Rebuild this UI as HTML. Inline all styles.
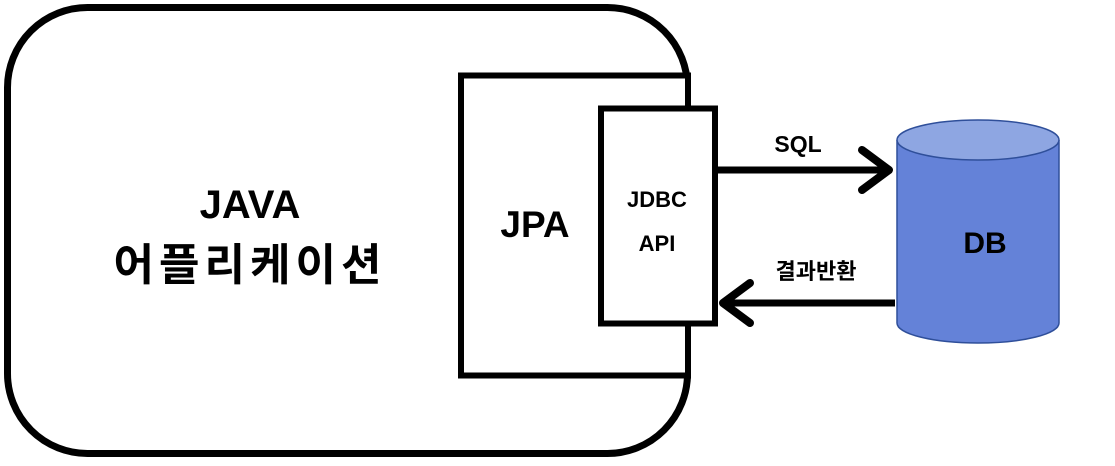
<!DOCTYPE html>
<html><head><meta charset="utf-8"><style>
html,body{margin:0;padding:0;background:#fff;}
svg text{font-family:"Liberation Sans","Noto Sans CJK KR",sans-serif;font-weight:bold;fill:#000;}
</style></head><body>
<svg width="1115" height="461" viewBox="0 0 1115 461" xmlns="http://www.w3.org/2000/svg">
<rect x="7.5" y="7.5" width="680" height="446" rx="80" ry="80" fill="#fff" stroke="#000" stroke-width="7"/>
<rect x="461" y="75.5" width="227" height="300" fill="#fff" stroke="#000" stroke-width="6"/>
<rect x="601" y="108.5" width="114" height="215" fill="#fff" stroke="#000" stroke-width="6"/>
<text x="250" y="218" font-size="40" text-anchor="middle">JAVA</text>
<text x="250" y="280" font-size="44" text-anchor="middle" letter-spacing="5">어플리케이션</text>
<text x="535" y="237" font-size="37" text-anchor="middle">JPA</text>
<text x="657" y="207" font-size="22" text-anchor="middle">JDBC</text>
<text x="657" y="251" font-size="22" text-anchor="middle">API</text>
<!-- cylinder -->
<path d="M897 140 L897 323 A81 20 0 0 0 1059 323 L1059 140" fill="#6482d8" stroke="#2f4f9a" stroke-width="1.5"/>
<ellipse cx="978" cy="140" rx="81" ry="20" fill="#8ea6e2" stroke="#2f4f9a" stroke-width="1.5"/>
<text x="985" y="253" font-size="30" text-anchor="middle">DB</text>
<!-- arrows -->
<line x1="718" y1="170" x2="888" y2="170" stroke="#000" stroke-width="7"/>
<polyline points="862,150 889,170 862,190" fill="none" stroke="#000" stroke-width="8" stroke-linecap="round" stroke-linejoin="round"/>
<text x="798" y="152" font-size="23" text-anchor="middle">SQL</text>
<line x1="895" y1="303" x2="724" y2="303" stroke="#000" stroke-width="7"/>
<polyline points="750,283 723,303 750,323" fill="none" stroke="#000" stroke-width="8" stroke-linecap="round" stroke-linejoin="round"/>
<text x="816" y="279" font-size="22" text-anchor="middle">결과반환</text>
</svg>
</body></html>
